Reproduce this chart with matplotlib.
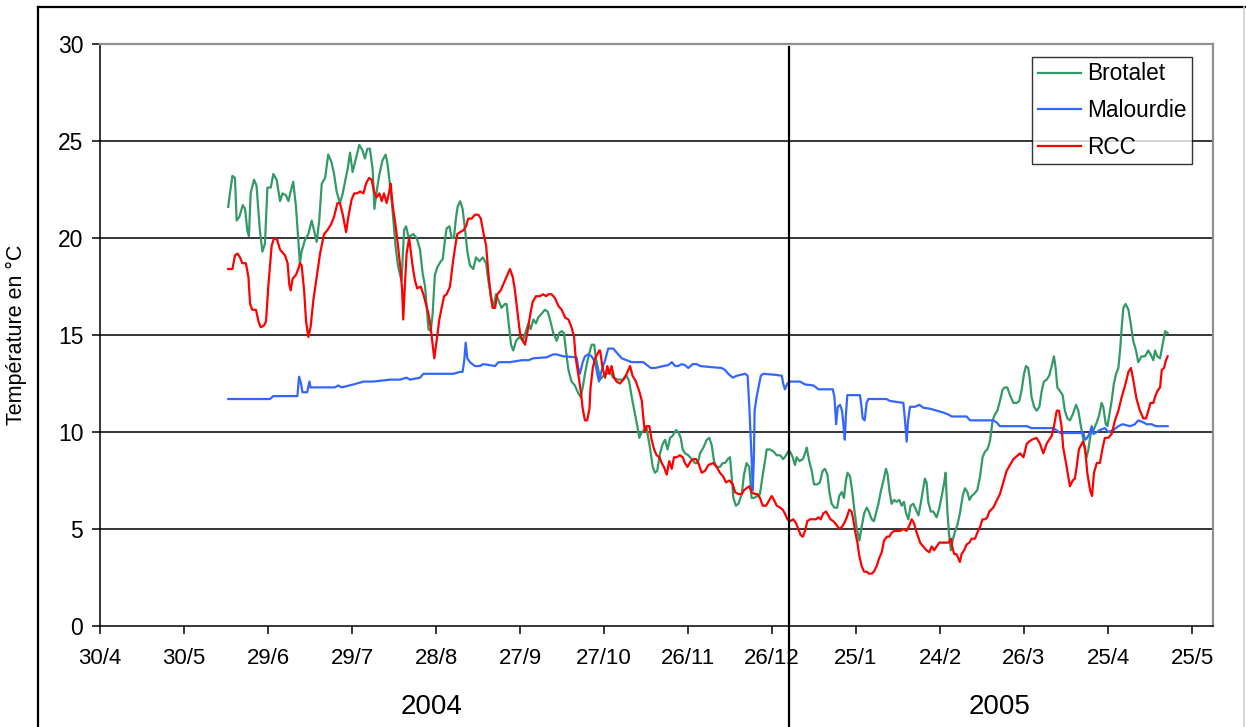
import datetime as dt
import matplotlib
matplotlib.use("Agg")
import matplotlib.pyplot as plt
from matplotlib.lines import Line2D

plt.rcParams['font.family'] = ['Liberation Sans', 'DejaVu Sans']

# ---- data: (days since 30/4/2004, temperature °C) ----
brotalet = [
 (45.8,21.6),(46.4,22.3),(47.3,23.2),(48.2,23.1),(48.8,20.9),(49.8,21.1),(51.0,21.7),(51.8,21.5),(52.6,20.4),(53.2,20.1),
 (53.8,22.3),(55.0,23.0),(55.9,22.7),(57.1,20.4),(58.0,19.3),(58.9,19.7),(59.8,22.6),(61.0,22.6),(61.9,23.3),(63.1,23.0),
 (64.3,21.9),(65.2,22.3),(66.4,22.2),(67.3,21.9),(68.1,22.4),(69.0,22.9),(70.0,21.6),(70.8,19.9),(71.4,18.7),(72.0,19.3),
 (73.2,19.9),(74.4,20.2),(75.6,20.9),(76.4,20.4),(77.4,19.8),(78.3,20.9),(79.2,22.8),(80.4,23.1),(81.5,24.3),(82.7,23.9),
 (83.6,23.3),(84.5,22.4),(85.7,21.8),(86.7,22.3),(87.5,22.9),(88.5,23.6),(89.3,24.4),(90.2,23.4),(91.4,24.1),(92.6,24.8),
 (93.8,24.5),(94.6,24.1),(95.5,24.6),(96.4,24.6),(97.4,23.5),(98.0,21.5),(98.8,22.4),(99.8,23.3),(100.9,24.0),(102.0,24.3),
 (102.7,23.8),(103.6,22.7),(104.5,21.4),(105.6,19.5),(106.5,18.5),(107.7,17.8),(108.6,20.4),(109.3,20.6),(110.1,20.1),
 (110.7,20.1),(111.9,20.2),(113.1,20.0),(114.3,19.4),(115.2,18.2),(116.1,17.5),(116.7,16.4),(117.3,15.3),(118.1,15.2),(118.8,16.1),
 (119.6,18.1),(120.5,18.5),(121.7,18.8),(122.4,18.9),(123.2,19.9),(123.8,20.5),(124.8,20.6),(125.6,20.0),(126.4,20.0),(127.1,21.0),
 (127.7,21.6),(128.6,21.9),(129.5,21.5),(130.4,20.4),(131.2,19.3),(132.1,18.6),(133.3,18.4),(134.3,19.0),(135.5,18.8),(136.7,19.0),
 (137.9,18.7),(138.7,17.8),(139.5,17.1),(140.5,16.4),(141.4,17.1),(142.3,16.8),(143.4,16.4),(144.6,16.6),(145.2,16.6),(145.8,15.8),
 (146.8,14.5),(147.6,14.2),(148.6,14.7),(149.8,14.9),(151.0,14.7),(152.1,15.2),(153.0,15.6),(153.8,15.3),(154.8,15.8),(155.7,15.6),
 (156.5,15.9),(157.7,16.1),(158.9,16.3),(159.9,16.2),(160.7,15.8),(161.9,15.1),(163.1,14.7),(164.0,15.1),(164.9,15.2),(165.7,15.1),
 (166.4,14.2),(167.3,13.2),(168.4,12.6),(169.6,12.4),(170.8,12.0),(171.7,11.8),(172.4,12.3),(173.2,13.0),(174.0,13.6),(175.0,14.2),
 (175.6,14.5),(176.5,14.5),(177.1,13.8),(178.0,13.2),
 (178.6,12.7),(179.8,12.9),(181.0,13.0),(182.1,13.1),(183.3,12.8),(185.1,12.7),(186.9,12.7),(188.1,12.9),(189.0,12.6),(189.9,11.8),
 (191.1,10.9),(191.9,10.3),(192.6,9.7),(193.5,10.0),(194.3,10.1),(195.2,10.2),(196.4,9.2),(197.4,8.2),(198.2,7.9),(199.0,8.0),
 (200.0,8.9),(201.0,9.4),(201.8,9.6),(202.7,9.1),(203.6,9.7),(204.5,9.8),(205.7,10.1),(206.5,10.0),(207.4,9.7),(208.1,9.1),
 (209.0,8.9),(210.1,8.8),(211.3,8.6),(212.5,8.4),(213.5,8.4),(214.3,8.9),(215.5,9.2),(216.7,9.6),(217.6,9.7),(218.5,9.3),
 (219.3,8.5),(220.2,8.2),(221.4,8.2),(222.4,8.4),(223.2,8.4),(224.2,8.6),(225.0,8.7),(225.6,7.7),(226.2,6.6),(227.1,6.2),
 (228.0,6.3),(229.2,6.8),(230.0,7.8),(230.9,8.4),(231.9,8.2),(232.7,6.6),(233.6,6.6),(234.8,6.7),(235.7,6.8),(236.7,7.8),
 (237.5,8.5),(238.1,9.1),(239.3,9.1),(240.5,9.0),(241.7,8.8),(242.9,8.8),(244.0,8.6),(245.0,8.8),(245.8,9.0),
 (246.4,9.0),(247.4,8.7),(248.2,8.3),(248.8,8.7),(249.8,8.5),(251.0,8.6),(251.8,8.9),(252.4,9.2),(253.3,8.5),(254.2,8.0),
 (255.0,7.3),(256.2,7.3),(257.1,7.4),(258.1,8.0),(258.9,8.1),(259.8,7.8),(260.5,6.9),(261.3,6.3),(262.3,6.1),(263.3,6.1),
 (264.0,6.7),(264.9,6.9),(265.7,6.6),(266.4,7.5),(267.0,7.9),(267.9,7.7),(268.7,6.9),(269.4,6.0),(270.2,5.1),(271.2,4.4),
 (272.0,5.1),(272.9,5.8),(273.8,6.1),(274.6,5.9),(275.6,5.5),(276.4,5.4),(277.1,5.8),(278.0,6.3),(278.8,6.9),(279.8,7.5),
 (280.7,8.1),(281.3,7.8),(281.9,7.0),(282.7,6.3),(283.6,6.5),(284.5,6.4),(285.5,6.5),(286.3,6.2),(287.1,6.4),(287.9,5.8),
 (288.7,5.5),(289.5,6.2),(290.5,6.3),(291.4,6.0),(292.3,5.7),(293.1,6.3),(293.8,6.9),(294.6,7.6),(295.2,7.4),(295.8,6.4),
 (296.7,5.9),(297.6,5.9),(298.8,5.6),(299.8,6.1),(300.6,6.7),(301.4,7.3),(302.0,7.9),(302.6,6.0),(303.3,4.6),(303.9,3.9),
 (304.5,4.4),(305.4,4.9),(306.2,5.2),(307.1,5.8),(308.1,6.7),(308.9,7.1),(309.8,6.9),(310.5,6.5),(311.3,6.7),(312.1,6.8),
 (313.3,7.0),(314.3,7.7),(315.2,8.7),(316.1,9.0),(316.9,9.1),(317.6,9.4),
 (317.9,9.6),(318.8,10.6),(319.6,10.9),(320.5,11.1),(321.4,11.6),(322.4,12.2),(323.2,12.3),(324.0,12.3),(325.0,11.9),(326.2,11.5),
 (327.4,11.5),(328.3,11.6),(329.2,12.2),(330.0,13.0),(330.7,13.4),(331.5,13.3),(332.1,12.7),(332.7,11.8),(333.6,11.3),(334.5,11.1),
 (335.5,11.3),(336.3,12.1),(337.1,12.6),(338.1,12.7),(339.0,12.9),(339.9,13.4),(340.7,13.9),(341.3,13.3),(341.9,12.3),(342.9,12.1),
 (343.8,11.9),(344.6,11.1),(345.5,10.7),(346.4,10.6),(347.4,10.9),(348.6,11.4),(349.4,11.1),(350.2,10.4),(351.2,9.6),(351.8,9.0),
 (352.4,8.7),(353.0,9.1),(353.8,9.9),(354.8,10.1),(356.0,10.5),(356.9,10.9),(357.7,11.5),(358.3,11.3),(359.2,10.4),(359.8,10.3),
 (360.5,10.9),(361.3,11.6),(362.1,12.5),(362.9,13.0),(363.7,13.3),(364.3,14.2),(364.9,15.4),(365.5,16.4),(366.3,16.6),(367.3,16.3),
 (368.1,15.6),(369.0,14.7),(370.0,14.2),(370.8,13.6),(372.0,13.9),(373.2,13.9),(374.4,14.2),(375.2,14.0),(376.2,13.7),(376.8,14.2),
 (377.6,13.9),(378.6,13.8),(379.5,14.5),(380.4,15.2),(381.3,15.1),
]

malourdie = [
 (45.8,11.7),(60.7,11.7),(61.9,11.85),(70.5,11.85),(71.1,12.85),(71.8,12.5),(72.3,12.05),(74.0,12.05),(74.8,12.6),(75.2,12.3),
 (83.9,12.3),(85.1,12.4),(86.3,12.3),(90.5,12.45),(94.1,12.6),(97.6,12.6),(103.6,12.7),(107.1,12.7),(109.5,12.8),
 (110.7,12.7),(114.3,12.8),(115.5,13.0),(117.9,13.0),(126.2,13.0),(128.6,13.1),(129.5,13.1),(130.1,13.7),(130.6,14.6),(131.2,13.8),
 (132.1,13.6),(133.9,13.4),(135.7,13.4),(136.9,13.5),(141.1,13.4),(142.3,13.6),(146.4,13.6),(150.6,13.7),(153.0,13.7),(154.8,13.8),
 (159.5,13.85),(161.9,14.0),(163.1,14.0),(165.5,13.9),(170.2,13.85),(170.8,13.3),(171.4,13.0),(172.4,13.6),(173.2,13.9),(174.4,14.0),
 (175.6,13.9),(176.8,13.6),(177.6,13.0),(178.2,12.6),
 (179.2,13.2),(180.4,13.7),(181.5,14.3),(183.3,14.3),(184.5,14.1),(186.3,13.8),(188.1,13.7),(189.9,13.6),(194.0,13.6),(195.8,13.4),
 (196.7,13.3),(198.2,13.3),(201.2,13.4),(203.0,13.45),(204.2,13.6),(205.4,13.4),(206.5,13.4),(207.7,13.5),(208.9,13.45),(210.1,13.3),
 (211.7,13.5),(213.1,13.5),(214.3,13.4),(217.9,13.35),(222.0,13.3),(223.2,13.2),(224.4,13.0),(226.0,12.8),(227.4,12.9),(230.4,13.0),
 (231.3,12.9),(231.9,11.3),(232.4,9.7),(232.9,8.0),(233.1,7.0),(233.5,8.5),(233.8,11.1),(234.5,11.8),(235.2,12.3),(236.0,12.9),
 (236.9,13.0),(241.1,12.95),(243.5,12.9),(244.0,12.5),(244.6,12.2),(245.5,12.5),(246.4,12.6),
 (250.0,12.6),(251.8,12.45),(254.8,12.4),(256.6,12.2),(261.7,12.2),(262.3,11.8),(262.9,10.4),(263.5,11.3),(264.3,11.4),(265.0,11.1),
 (265.5,10.4),(266.0,9.6),(266.4,10.9),(266.9,11.9),(271.4,11.9),(271.8,11.5),(272.4,10.7),(273.1,10.6),(273.8,11.5),(274.4,11.7),
 (280.9,11.7),(282.1,11.6),(286.9,11.5),(287.5,10.6),(288.1,9.5),(288.6,10.6),(289.3,11.3),(291.1,11.3),(292.6,11.4),(294.1,11.25),
 (296.4,11.2),(298.8,11.1),(301.2,11.0),(303.0,10.9),(304.2,10.8),(309.5,10.8),(310.7,10.6),(317.6,10.6),
 (319.0,10.6),(320.2,10.5),(321.4,10.3),(331.0,10.3),(332.7,10.2),(340.5,10.2),(342.9,9.95),(351.2,9.95),(351.8,9.6),(352.6,9.7),
 (353.6,10.0),(354.2,10.3),(354.8,9.9),(356.0,10.0),(357.1,10.1),(358.9,10.2),(360.1,10.0),(361.9,10.1),(363.7,10.3),(365.2,10.4),
 (367.9,10.3),(369.6,10.4),(370.8,10.6),(372.6,10.5),(373.8,10.4),(375.6,10.4),(377.1,10.3),(381.3,10.3),
]

rcc = [
 (45.8,18.4),(47.3,18.4),(48.2,19.1),(49.1,19.2),(50.0,19.0),(50.8,18.7),(52.1,18.7),(53.0,18.0),(53.6,16.6),(54.4,16.3),
 (55.7,16.3),(56.6,15.7),(57.4,15.4),(58.6,15.5),(59.3,15.7),(60.1,17.5),(61.3,19.6),(62.2,20.0),(63.3,19.9),(64.3,19.4),
 (66.1,19.1),(67.0,18.7),(67.6,17.6),(68.1,17.3),(68.8,17.9),(70.0,18.1),(70.8,18.4),(71.4,18.7),(72.0,18.6),(72.9,17.3),
 (73.6,15.7),(74.4,14.9),(75.2,15.4),(76.2,16.8),(77.4,18.0),(78.6,19.2),(80.0,20.2),(81.2,20.4),(82.5,20.7),(83.6,21.1),
 (84.8,21.8),(85.7,21.8),(86.7,21.2),(87.9,20.3),(88.7,21.1),(89.9,22.0),(90.8,22.3),(91.9,22.3),(92.9,22.4),(94.1,22.3),
 (95.0,22.8),(96.1,23.1),(97.0,23.0),(97.9,22.4),(98.8,22.1),(99.8,22.3),(100.6,21.9),(101.4,22.3),(102.4,21.8),(103.3,22.4),
 (103.8,22.8),(104.5,21.7),(105.6,20.6),(106.5,19.5),(107.4,18.3),(107.9,17.3),(108.3,15.8),(108.9,17.6),(109.5,19.2),(110.4,20.0),
 (111.7,18.5),(112.5,17.8),(113.3,17.4),(114.5,17.5),(115.5,17.1),(116.4,16.6),(117.3,16.1),(118.1,15.4),(118.8,14.5),(119.4,13.8),
 (120.2,14.7),(121.2,15.8),(122.0,16.4),(122.9,17.0),(123.8,17.1),(125.0,17.5),(126.0,18.7),(126.8,19.5),(127.6,20.2),(128.6,20.3),
 (129.8,20.4),(130.7,20.6),(131.5,21.0),(132.7,21.0),(133.9,21.2),(135.1,21.2),(136.0,21.0),(136.9,20.3),(137.9,19.6),(138.7,18.2),
 (139.5,17.1),(140.2,16.4),(141.1,16.4),(141.9,17.1),(143.1,17.3),(144.3,17.7),(145.5,18.1),(146.4,18.4),(147.4,18.0),(148.2,17.3),
 (149.0,16.3),(150.0,15.1),(151.0,14.7),(151.8,14.5),(152.6,15.1),(153.6,16.0),(154.5,16.7),(155.7,17.0),(157.1,17.0),(158.3,17.1),
 (159.3,17.0),(160.1,17.1),(161.3,17.1),(162.5,16.9),(163.7,16.5),(164.9,16.3),(166.1,15.9),(167.3,15.8),(168.4,15.4),(169.3,14.9),
 (169.9,13.8),(170.8,13.0),(171.7,12.1),(172.4,11.2),(173.2,10.6),(174.0,10.6),(174.8,11.2),(175.2,12.3),(176.0,13.3),(176.8,13.8),
 (177.6,14.0),(178.3,14.2),
 (178.6,14.2),(179.5,13.3),(180.4,12.8),(181.2,13.4),(181.9,13.0),(182.7,13.4),(183.6,12.8),(184.5,12.6),(185.7,12.5),(186.9,12.7),
 (188.1,13.0),(189.3,13.4),(190.2,12.9),(191.4,12.6),(192.6,12.1),(193.5,11.6),(194.0,10.8),(194.6,10.0),(195.2,10.3),(196.2,10.3),
 (197.0,9.6),(197.9,9.1),(198.8,8.8),(199.8,8.7),(200.6,8.4),(201.4,8.2),(202.4,7.8),(203.3,8.5),(204.2,8.1),(205.0,8.7),
 (206.0,8.7),(207.1,8.8),(208.1,8.7),(208.9,8.4),(209.8,8.2),(211.0,8.5),(211.9,8.6),(212.9,8.6),(213.7,8.4),(214.9,7.9),
 (216.1,8.0),(217.3,8.3),(219.0,8.4),(220.2,8.2),(221.4,7.9),(222.6,7.7),(223.6,7.4),(224.8,7.5),(226.0,7.3),(226.8,6.9),
 (228.0,6.8),(229.2,6.8),(230.0,7.0),(230.9,7.1),(231.9,7.2),(232.7,6.9),(233.9,6.8),(234.8,6.8),(235.7,6.6),(236.7,6.2),
 (237.9,6.2),(238.7,6.4),(239.9,6.7),(240.7,6.5),(241.7,6.2),(242.9,6.1),(243.8,6.0),(244.6,5.8),(245.5,5.5),(246.4,5.4),
 (247.6,5.5),(248.6,5.3),(249.4,5.0),(250.2,4.7),(251.0,4.6),(251.8,4.9),(252.6,5.4),(253.6,5.5),(254.8,5.5),(255.7,5.5),
 (256.5,5.6),(257.4,5.5),(258.3,5.8),(259.3,5.9),(260.1,5.7),(260.9,5.5),(261.9,5.4),(263.1,5.2),(264.0,5.0),(264.9,5.1),
 (265.8,5.3),(266.7,5.6),(267.6,6.0),(268.4,5.9),(269.0,5.5),(269.8,4.8),(270.5,4.3),(271.2,3.6),(272.0,3.1),(272.9,2.8),
 (273.8,2.8),(274.6,2.7),(275.6,2.7),(276.4,2.8),(277.4,3.1),(278.3,3.5),(279.2,3.8),(280.0,4.4),(281.0,4.6),(281.9,4.6),
 (282.7,4.8),(283.6,4.9),(284.5,4.9),(285.7,4.9),(286.9,5.0),(288.1,4.9),(289.1,5.2),(289.9,5.5),(290.7,5.3),(291.7,4.8),
 (292.9,4.3),(294.0,4.1),(295.2,3.9),(296.2,3.8),(297.0,4.1),(297.9,3.9),(298.8,4.1),(299.8,4.3),(300.9,4.3),(302.1,4.3),
 (303.1,4.3),(303.9,4.5),(304.5,4.0),(305.1,3.7),(305.9,3.7),(306.5,3.5),(307.1,3.3),(307.7,3.7),(308.6,3.9),(309.5,4.2),
 (310.5,4.3),(311.3,4.5),(312.5,4.5),(313.3,4.8),(314.3,5.1),(315.2,5.5),(316.1,5.5),(316.9,5.6),(317.6,5.9),
 (319.0,6.1),(321.4,6.8),(323.8,8.0),(326.2,8.6),(328.6,8.9),(329.8,8.7),(331.0,9.4),(332.7,9.6),(334.5,9.7),(335.7,9.4),
 (336.9,8.9),(338.1,9.4),(339.9,9.8),(340.7,10.3),(341.7,11.1),(342.5,11.1),(343.4,10.3),(344.0,9.2),(345.0,8.4),(345.8,7.7),
 (346.4,7.2),(347.4,7.5),(348.2,7.6),(348.8,8.2),(349.6,9.1),(351.0,9.5),(351.8,9.2),(352.6,7.9),(353.6,7.0),(354.3,6.7),
 (355.0,7.9),(356.0,8.4),(357.1,8.4),(358.1,9.2),(358.9,9.7),(360.1,9.7),(361.3,9.9),(362.5,10.6),(363.7,11.1),(364.9,11.8),
 (366.1,12.4),(367.3,13.1),(368.2,13.3),(369.0,12.7),(370.2,11.7),(371.4,11.1),(372.6,10.7),(373.6,10.7),(374.4,11.1),(375.2,11.5),
 (376.2,11.5),(376.8,11.8),(377.6,12.1),(378.6,12.3),(379.2,13.2),(380.0,13.3),(380.7,13.7),(381.3,13.9),
]

series_names = ["Brotalet", "Malourdie", "RCC"]
series_colors = ["#339966", "#3366FF", "#FF0000"]
start_date = dt.date(2004, 4, 30)
tick_days = list(range(0, 391, 30))
tick_labels = [f"{(start_date + dt.timedelta(days=d)).day}/{(start_date + dt.timedelta(days=d)).month}" for d in tick_days]
year_labels = ["2004", "2005"]
year_break_day = (dt.date(2005, 1, 1) - start_date).days
y_label = "Température en °C"

# ---- figure ----
W, H = 1246, 727
fig = plt.figure(figsize=(W / 100, H / 100), dpi=100)
L, R, T, B = 100, 1213, 44, 626
ax = fig.add_axes([L / W, 1 - B / H, (R - L) / W, (B - T) / H])

for data, name, col in zip([brotalet, malourdie, rcc], series_names, series_colors):
    xs = [p[0] for p in data]
    ys = [p[1] for p in data]
    ax.plot(xs, ys, color=col, lw=1.6, label=name, zorder=3, solid_joinstyle='round')

ax.set_xlim(0, 397.5)
ax.set_ylim(0, 30)
ax.set_yticks(range(0, 31, 5))
ax.set_xticks(tick_days)
ax.set_xticklabels(tick_labels)
for yv in range(5, 30, 5):
    ax.axhline(yv, color='black', lw=1.1, zorder=1)

ax.tick_params(axis='x', direction='out', length=6, width=1.1, pad=10, labelsize=16)
ax.tick_params(axis='y', direction='out', length=6, width=1.1, pad=6, labelsize=16.5)
for s in ['top', 'right']:
    ax.spines[s].set_color('#909090')
    ax.spines[s].set_linewidth(1.6)
for s in ['left', 'bottom']:
    ax.spines[s].set_color('black')
    ax.spines[s].set_linewidth(1.1)

ax.set_ylabel(y_label, fontsize=15.5)
ax.yaxis.set_label_coords(-(L - 27) / (R - L), 0.5)

# year separator line
ax.plot([year_break_day, year_break_day], [0.995, -0.2], color='black', lw=1.6,
        transform=ax.get_xaxis_transform(), clip_on=False, zorder=4)

fig.text(432 / W, 1 - 707 / H, year_labels[0], fontsize=20, ha='center', va='center')
fig.text(1000 / W, 1 - 707 / H, year_labels[1], fontsize=20, ha='center', va='center')

leg = ax.legend(loc='upper right', bbox_to_anchor=(0.981, 0.978), fontsize=16.3, frameon=True,
                fancybox=False, edgecolor='black', handlelength=1.9, handletextpad=0.25,
                labelspacing=0.6, borderpad=0.25, borderaxespad=0)
leg.get_frame().set_linewidth(1.0)
leg.set_zorder(5)

# outer chart border
fig.add_artist(Line2D([38 / W, 38 / W], [0, 1 - 7 / H], color='black', lw=1.6))
fig.add_artist(Line2D([38 / W, 1245 / W], [1 - 7 / H, 1 - 7 / H], color='black', lw=1.6))
fig.add_artist(Line2D([1244 / W, 1244 / W], [0, 1 - 7 / H], color='#d0d0d0', lw=1.2))

fig.savefig("out.png", dpi=100, facecolor='white')
